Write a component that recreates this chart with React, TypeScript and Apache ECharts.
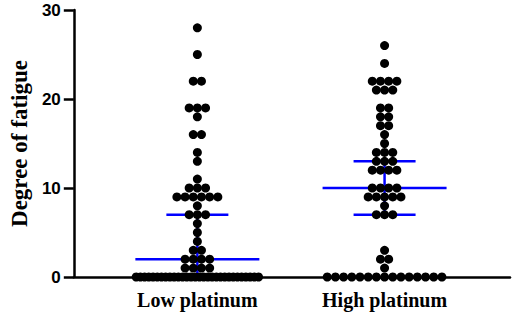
import React, { useEffect, useRef } from "react";
import * as echarts from "echarts";

const categories = ["Low platinum", "High platinum"];

const lowValues = [
  28, 25, 22, 22, 19, 19, 19, 18, 16, 16, 14, 13, 11, 10, 10, 10, 9, 9, 9, 9, 9, 9,
  8, 7, 7, 7, 6, 5, 4, 3, 3, 2, 2, 2, 2, 1, 1, 1, 1,
  0, 0, 0, 0, 0, 0, 0, 0, 0, 0, 0, 0, 0, 0, 0, 0, 0, 0, 0, 0, 0, 0, 0, 0, 0, 0, 0, 0, 0, 0,
];

const highValues = [
  26, 24, 22, 22, 22, 22, 21, 21, 21, 19, 19, 18, 18, 17, 17, 16, 15, 14, 14, 14,
  13, 13, 13, 12, 12, 12, 12, 10, 10, 10, 10, 9, 9, 9, 9, 9, 8, 7, 7, 7, 3, 2, 2, 1,
  0, 0, 0, 0, 0, 0, 0, 0, 0, 0, 0, 0, 0, 0, 0,
];

const medians = [2, 10];
const q1s = [0, 7];
const q3s = [7, 13];

const yTicks = [0, 10, 20, 30];

const W = 512;
const H = 316;
const GRID_LEFT = 68;
const GRID_RIGHT = 2;
const X_MIN = 0.34;
const X_MAX = 2.67;
const PX_PER_UNIT = (W - GRID_LEFT - GRID_RIGHT) / (X_MAX - X_MIN);
const DOT_STEP = 8.3;
const MAX_ROW = 124;

function swarm(values: number[], center: number): number[][] {
  const rows = new Map<number, number>();
  values.forEach((v) => rows.set(v, (rows.get(v) || 0) + 1));
  const pts: number[][] = [];
  rows.forEach((n, v) => {
    const step = n > 1 ? Math.min(DOT_STEP, MAX_ROW / (n - 1)) : 0;
    for (let k = 0; k < n; k++) {
      const offPx = (k - (n - 1) / 2) * step;
      pts.push([center + offPx / PX_PER_UNIT, v]);
    }
  });
  return pts;
}

export default function App() {
  const ref = useRef<HTMLDivElement>(null);
  useEffect(() => {
    if (!ref.current) return;
    const chart = echarts.init(ref.current, null, { renderer: "svg" });
    const groups = [lowValues, highValues];
    const dots: number[][] = [];
    groups.forEach((g, i) => dots.push(...swarm(g, i + 1)));
    const stats = categories.map((_, i) => [i + 1, medians[i], q1s[i], q3s[i]]);
    const blue = "#0000ff";
    chart.setOption({
      animation: false,
      grid: { left: GRID_LEFT, right: GRID_RIGHT, top: 10, bottom: 39, containLabel: false },
      xAxis: {
        type: "value",
        min: X_MIN,
        max: X_MAX,
        splitLine: { show: false },
        axisTick: { show: false },
        axisLine: { show: true, onZero: false, lineStyle: { color: "#000", width: 2.5 } },
        axisLabel: {
          customValues: [1, 2],
          formatter: (v: number) => categories[Math.round(v) - 1] || "",
          fontFamily: "Liberation Serif",
          fontWeight: "bold",
          fontSize: 20,
          color: "#000",
          margin: 13,
        },
      },
      yAxis: {
        type: "value",
        min: yTicks[0],
        max: yTicks[yTicks.length - 1],
        interval: 10,
        name: "Degree of fatigue",
        nameLocation: "middle",
        nameGap: 40,
        nameTextStyle: {
          fontFamily: "Liberation Serif",
          fontWeight: "bold",
          fontSize: 23,
          color: "#000",
        },
        splitLine: { show: false },
        axisLine: { show: true, lineStyle: { color: "#000", width: 2.5 } },
        axisTick: { show: true, length: 10, lineStyle: { color: "#000", width: 2.5 } },
        axisLabel: {
          fontFamily: "Liberation Sans",
          fontWeight: "bold",
          fontSize: 17,
          color: "#000",
          margin: 13,
        },
      },
      series: [
        {
          type: "custom",
          z: 2,
          data: stats,
          encode: { x: 0, y: 1 },
          renderItem: (params: any, api: any) => {
            const x = api.value(0);
            const m = api.coord([x, api.value(1)]);
            const lo = api.coord([x, api.value(2)]);
            const hi = api.coord([x, api.value(3)]);
            const style = { stroke: blue, lineWidth: 2.5 };
            return {
              type: "group",
              children: [
                { type: "line", shape: { x1: m[0] - 62, y1: m[1], x2: m[0] + 62, y2: m[1] }, style },
                { type: "line", shape: { x1: hi[0] - 31, y1: hi[1], x2: hi[0] + 31, y2: hi[1] }, style },
                { type: "line", shape: { x1: lo[0] - 31, y1: lo[1], x2: lo[0] + 31, y2: lo[1] }, style },
                { type: "line", shape: { x1: lo[0], y1: lo[1], x2: hi[0], y2: hi[1] }, style },
              ],
            };
          },
        },
        {
          type: "scatter",
          z: 3,
          symbol: "circle",
          symbolSize: 9,
          itemStyle: { color: "#000", opacity: 1 },
          data: dots,
          clip: false,
        },
      ],
    });
    return () => chart.dispose();
  }, []);
  return (
    <div
      ref={ref}
      style={{ position: "absolute", left: 0, top: 0, width: W, height: H, background: "#fff" }}
    />
  );
}
